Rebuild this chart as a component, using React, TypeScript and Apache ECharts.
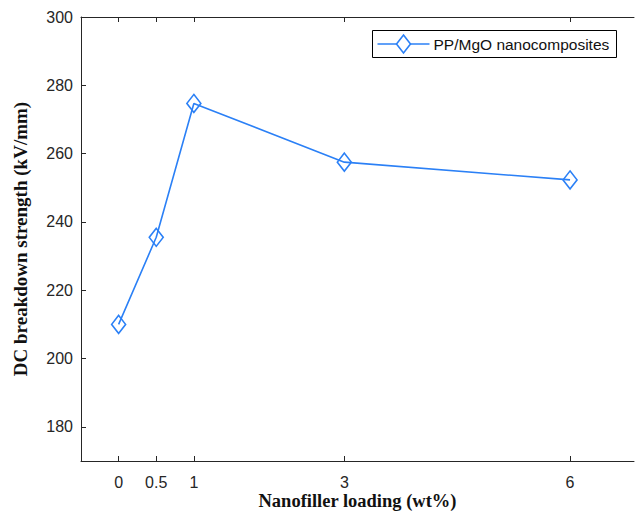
import React, { useEffect, useRef } from "react";
import * as echarts from "echarts";

const loadings = [0, 0.5, 1, 3, 6];
const strength = [210.0, 235.5, 274.7, 257.5, 252.3];
const xTicks = [0, 0.5, 1, 3, 6];
const yTicks = [180, 200, 220, 240, 260, 280, 300];
const seriesName = "PP/MgO nanocomposites";

const BLUE = "#2b80f6";
const AX = "#262626";

export default function App() {
  const ref = useRef<HTMLDivElement>(null);
  useEffect(() => {
    if (!ref.current) return;
    const chart = echarts.init(ref.current, null, { renderer: "svg" });
    const data = loadings.map((x, i) => [x, strength[i]]);
    chart.setOption({
      animation: false,
      backgroundColor: "#fff",
      grid: { left: 81, top: 17, right: 1, bottom: 52, outerBoundsMode: "none", containLabel: false },
      xAxis: [
        {
          type: "value",
          min: -0.5,
          max: 6.85,
          position: "bottom",
          splitLine: { show: false },
          axisLine: { show: true, onZero: false, lineStyle: { color: AX, width: 1 } },
          axisTick: {
            show: true,
            inside: true,
            length: 5,
            customValues: xTicks,
            lineStyle: { color: AX },
          },
          axisLabel: {
            customValues: xTicks,
            color: AX,
            fontFamily: "Liberation Sans, Arial, sans-serif",
            fontSize: 16,
            margin: 13,
          },
          name: "Nanofiller loading (wt%)",
          nameLocation: "middle",
          nameMoveOverlap: false,
          nameGap: 30,
          nameTextStyle: {
            color: "#111",
            fontFamily: "Liberation Serif, Times New Roman, serif",
            fontWeight: "bold",
            fontSize: 18.5,
            lineHeight: 20,
            verticalAlign: "top",
          },
        },
        {
          type: "value",
          min: -0.5,
          max: 6.85,
          position: "top",
          splitLine: { show: false },
          axisLine: { show: true, onZero: false, lineStyle: { color: AX, width: 1 } },
          axisTick: {
            show: true,
            inside: true,
            length: 5,
            customValues: xTicks,
            lineStyle: { color: AX },
          },
          axisLabel: { show: false },
        },
      ],
      yAxis: {
        type: "value",
        min: 170,
        max: 300,
        splitLine: { show: false },
        axisLine: { show: true, onZero: false, lineStyle: { color: AX, width: 1 } },
        axisTick: {
          show: true,
          inside: true,
          length: 5,
          customValues: yTicks,
          lineStyle: { color: AX },
        },
        axisLabel: {
          customValues: yTicks,
          color: AX,
          fontFamily: "Liberation Sans, Arial, sans-serif",
          fontSize: 16,
          margin: 8,
        },
        name: "DC breakdown strength (kV/mm)",
        nameLocation: "middle",
        nameGap: 51,
        nameTextStyle: {
          color: "#111",
          fontFamily: "Liberation Serif, Times New Roman, serif",
          fontWeight: "bold",
          fontSize: 19,
        },
      },
      series: [
        {
          name: seriesName,
          type: "line",
          data,
          symbol: "diamond",
          symbolSize: [14, 18],
          lineStyle: { color: BLUE, width: 1.6 },
          itemStyle: { color: "rgba(0,0,0,0)", borderColor: BLUE, borderWidth: 1.6 },
        },
      ],
      graphic: [
        {
          type: "group",
          left: 372,
          top: 30,
          children: [
            {
              type: "rect",
              shape: { x: 0, y: 0, width: 244, height: 27 },
              style: { fill: "#fff", stroke: "#000", lineWidth: 1 },
            },
            {
              type: "line",
              shape: { x1: 5, y1: 13.5, x2: 57, y2: 13.5 },
              style: { stroke: BLUE, lineWidth: 1.6 },
            },
            {
              type: "polygon",
              shape: { points: [[31, 4.5], [38, 13.5], [31, 22.5], [24, 13.5]] },
              style: { fill: "#fff", stroke: BLUE, lineWidth: 1.6 },
            },
            {
              type: "text",
              x: 61,
              y: 14,
              style: {
                text: seriesName,
                fill: "#111",
                font: "15.5px 'Liberation Sans', Arial, sans-serif",
                verticalAlign: "middle",
              },
            },
          ],
        },
      ],
    });
    return () => chart.dispose();
  }, []);
  return (
    <div
      ref={ref}
      style={{ width: 635, height: 513, position: "absolute", left: 0, top: 0 }}
    />
  );
}
